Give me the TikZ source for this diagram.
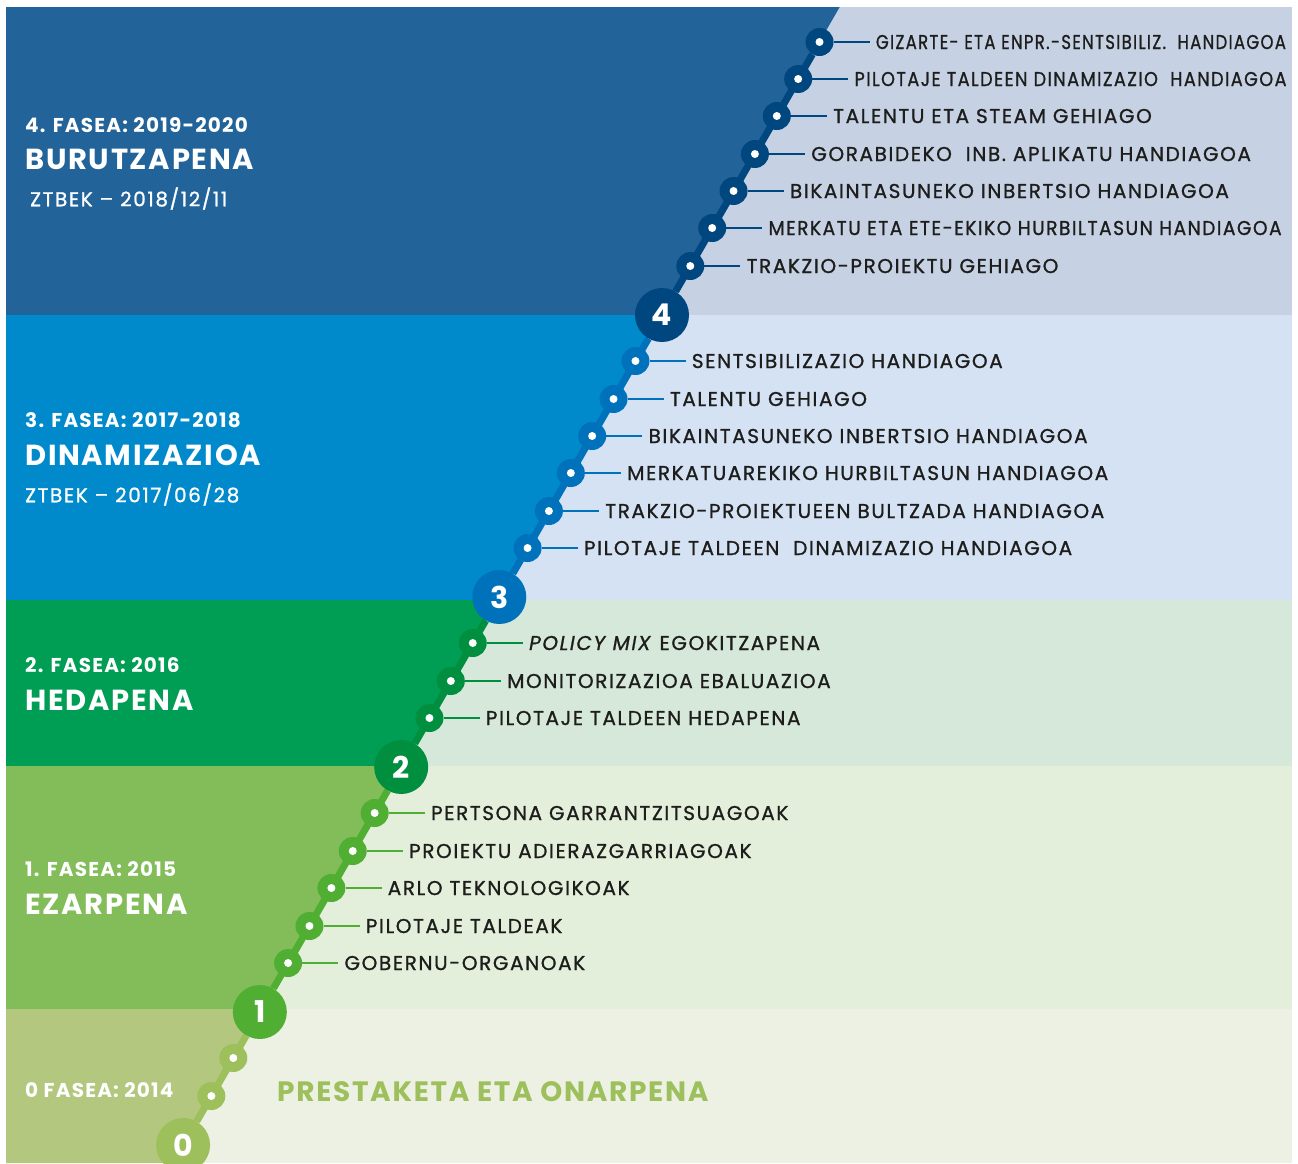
\documentclass[tikz,border=0pt]{standalone}
\usepackage{fontspec}
\setmainfont{Poppins}[LetterSpace=6]
\newfontfamily\lblfont{Poppins}[FakeBold=1.0, LetterSpace=8]
\usetikzlibrary{positioning, calc}
\definecolor{ink}{HTML}{1D1D1B}
\definecolor{leftfour}{HTML}{22639A}
\definecolor{rightfour}{HTML}{C6D1E4}
\definecolor{leftthree}{HTML}{0089CB}
\definecolor{rightthree}{HTML}{D4E2F4}
\definecolor{lefttwo}{HTML}{009D54}
\definecolor{righttwo}{HTML}{D6E8DA}
\definecolor{leftone}{HTML}{82BD5A}
\definecolor{rightone}{HTML}{E3EFDB}
\definecolor{leftzero}{HTML}{B3C87E}
\definecolor{rightzero}{HTML}{EDF1E3}
\definecolor{cfour}{HTML}{00467F}
\definecolor{cthree}{HTML}{0072BB}
\definecolor{ctwo}{HTML}{008F3F}
\definecolor{cone}{HTML}{50AE33}
\definecolor{czero}{HTML}{9DBF5C}
\newcommand{\squeeze}[2]{\resizebox{#1}{\height}{#2}}
\pgfdeclarelayer{bands}
\pgfdeclarelayer{links}
\pgfsetlayers{bands,links,main}

\begin{document}
\begin{tikzpicture}[
  x=1pt, y=-1pt,
  declare function={cx(\t)=662+0.577*(315-\t);},
  phase/.style={anchor=west, inner sep=0pt, text height=14.5pt, text depth=0pt,
                text=white, font=\fontsize{20}{20}\selectfont\bfseries},
  stage/.style={phase, text height=20.5pt, font=\fontsize{29}{29}\selectfont\bfseries},
  datum/.style={phase, font=\lblfont\fontsize{20}{20}\selectfont},
  milestone/.style={circle, minimum size=54pt, inner sep=0pt, text=white,
                    font=\fontsize{30}{30}\selectfont\bfseries},
  dot/.style={circle, minimum size=28pt, inner sep=0pt,
              path picture={\fill[white] (path picture bounding box.center) circle (4pt);}},
  lbl/.style={anchor=west, inner xsep=6pt, inner ysep=0pt, text height=14pt,
              text depth=0pt, text=ink, font=\lblfont\fontsize{20}{20}\selectfont},
  tick/.style={line width=2.5pt},
  chain/.style={line width=7pt}
]
  \useasboundingbox (0,0) rectangle (1298,1163);
  \clip (0,0) rectangle (1298,1163);

  % bands
  \begin{pgfonlayer}{bands}
  \fill[rightfour] (6,7) rectangle (1292,315);
  \fill[leftfour] (6,7) -- ({cx(7)},7) -- ({cx(315)},315) -- (6,315) -- cycle;
  \fill[rightthree] (6,315) rectangle (1292,600);
  \fill[leftthree] (6,315) -- ({cx(315)},315) -- ({cx(600)},600) -- (6,600) -- cycle;
  \fill[righttwo] (6,600) rectangle (1292,766);
  \fill[lefttwo] (6,600) -- ({cx(600)},600) -- ({cx(766)},766) -- (6,766) -- cycle;
  \fill[rightone] (6,766) rectangle (1292,1009);
  \fill[leftone] (6,766) -- ({cx(766)},766) -- ({cx(1009)},1009) -- (6,1009) -- cycle;
  \fill[rightzero] (6,1009) rectangle (1292,1163);
  \fill[leftzero] (6,1009) -- ({cx(1009)},1009) -- ({cx(1163)},1163) -- (6,1163) -- cycle;
  \end{pgfonlayer}

  % phase texts
  \node[phase] (f4) at (25,125) {4. FASEA: 2019-2020};
  \node[stage] (s4) at (25,159) {BURUTZAPENA};
  \node[datum] (z4) at (30,199) {ZTBEK \textendash\ 2018/12/11};
  \node[phase] (f3) at (25,420) {3. FASEA: 2017-2018};
  \node[stage] (s3) at (25,455) {DINAMIZAZIOA};
  \node[datum] (z3) at (25,495) {ZTBEK \textendash\ 2017/06/28};
  \node[phase] (f2) at (25,665) {2. FASEA: 2016};
  \node[stage] (s2) at (25,700) {HEDAPENA};
  \node[phase] (f1) at (25,869) {1. FASEA: 2015};
  \node[stage] (s1) at (25,904) {EZARPENA};
  \node[phase] (f0) at (25,1090) {0 FASEA: 2014};
  \node[stage, text=czero, font=\fontsize{28}{28}\selectfont\bfseries] (s0) at (277,1091)
    {PRESTAKETA ETA ONARPENA};

  % milestones
  \node[milestone, fill=czero] (m0) at ({cx(1145)},1145) {0};
  \node[milestone, fill=cone] (m1) at ({cx(1012)},1012) {1};
  \node[milestone, fill=ctwo] (m2) at ({cx(767)},767) {2};
  \node[milestone, fill=cthree] (m3) at ({cx(597)},597) {3};
  \node[milestone, fill=cfour] (m4) at ({cx(315)},315) {4};

  % steps, phase 0
  \node[dot, fill=czero] (i01) at ({cx(1096)},1096) {};
  \node[dot, fill=czero] (i02) at ({cx(1058)},1058) {};

  % steps, phase 1
  \node[dot, fill=cone] (i11) at ({cx(963)},963) {};
  \node[dot, fill=cone] (i12) at ({cx(926)},926) {};
  \node[dot, fill=cone] (i13) at ({cx(888)},888) {};
  \node[dot, fill=cone] (i14) at ({cx(851)},851) {};
  \node[dot, fill=cone] (i15) at ({cx(813)},813) {};
  \node[lbl, right=36pt of i11] (l11) {GOBERNU-ORGANOAK};
  \node[lbl, right=36pt of i12] (l12) {PILOTAJE TALDEAK};
  \node[lbl, right=36pt of i13] (l13) {ARLO TEKNOLOGIKOAK};
  \node[lbl, right=36pt of i14] (l14) {PROIEKTU ADIERAZGARRIAGOAK};
  \node[lbl, right=36pt of i15] (l15) {PERTSONA GARRANTZITSUAGOAK};

  % steps, phase 2
  \node[dot, fill=ctwo] (i21) at ({cx(718)},718) {};
  \node[dot, fill=ctwo] (i22) at ({cx(681)},681) {};
  \node[dot, fill=ctwo] (i23) at ({cx(643)},643) {};
  \node[lbl, right=36pt of i21] (l21) {PILOTAJE TALDEEN HEDAPENA};
  \node[lbl, right=36pt of i22] (l22) {MONITORIZAZIOA EBALUAZIOA};
  \node[lbl, right=36pt of i23] (l23) {\textit{POLICY MIX} EGOKITZAPENA};

  % steps, phase 3
  \node[dot, fill=cthree] (i31) at ({cx(548)},548) {};
  \node[dot, fill=cthree] (i32) at ({cx(511)},511) {};
  \node[dot, fill=cthree] (i33) at ({cx(473)},473) {};
  \node[dot, fill=cthree] (i34) at ({cx(436)},436) {};
  \node[dot, fill=cthree] (i35) at ({cx(399)},399) {};
  \node[dot, fill=cthree] (i36) at ({cx(361)},361) {};
  \node[lbl, right=36pt of i31] (l31) {PILOTAJE TALDEEN\ \ DINAMIZAZIO HANDIAGOA};
  \node[lbl, right=36pt of i32] (l32) {TRAKZIO-PROIEKTUEEN BULTZADA HANDIAGOA};
  \node[lbl, right=36pt of i33] (l33) {MERKATUAREKIKO HURBILTASUN HANDIAGOA};
  \node[lbl, right=36pt of i34] (l34) {BIKAINTASUNEKO INBERTSIO HANDIAGOA};
  \node[lbl, right=36pt of i35] (l35) {TALENTU GEHIAGO};
  \node[lbl, right=36pt of i36] (l36) {SENTSIBILIZAZIO HANDIAGOA};

  % steps, phase 4
  \node[dot, fill=cfour] (i41) at ({cx(266)},266) {};
  \node[dot, fill=cfour] (i42) at ({cx(228)},228) {};
  \node[dot, fill=cfour] (i43) at ({cx(191)},191) {};
  \node[dot, fill=cfour] (i44) at ({cx(154)},154) {};
  \node[dot, fill=cfour] (i45) at ({cx(116)},116) {};
  \node[dot, fill=cfour] (i46) at ({cx(79)},79) {};
  \node[dot, fill=cfour] (i47) at ({cx(42)},42) {};
  \node[lbl, right=36pt of i41] (l41) {TRAKZIO-PROIEKTU GEHIAGO};
  \node[lbl, right=36pt of i42] (l42) {\squeeze{513pt}{MERKATU ETA ETE-EKIKO HURBILTASUN HANDIAGOA}};
  \node[lbl, right=36pt of i43] (l43) {BIKAINTASUNEKO INBERTSIO HANDIAGOA};
  \node[lbl, right=36pt of i44] (l44) {GORABIDEKO\ \ INB. APLIKATU HANDIAGOA};
  \node[lbl, right=36pt of i45] (l45) {TALENTU ETA STEAM GEHIAGO};
  \node[lbl, right=36pt of i46] (l46) {\squeeze{432pt}{PILOTAJE TALDEEN DINAMIZAZIO\ \ HANDIAGOA}};
  \node[lbl, right=36pt of i47] (l47) {\squeeze{410pt}{GIZARTE- ETA ENPR.-SENTSIBILIZ.\ \ HANDIAGOA}};

  % chain and ticks
  \begin{pgfonlayer}{links}
  \draw[chain, czero] (m0) -- (m1);
  \draw[chain, cone] (m1) -- (m2);
  \draw[chain, ctwo] (m2) -- (m3);
  \draw[chain, cthree] (m3) -- (m4);
  \draw[chain, cfour] (m4) -- (i47);
  \draw[tick, cone] (i11) -- (l11);
  \draw[tick, cone] (i12) -- (l12);
  \draw[tick, cone] (i13) -- (l13);
  \draw[tick, cone] (i14) -- (l14);
  \draw[tick, cone] (i15) -- (l15);
  \draw[tick, ctwo] (i21) -- (l21);
  \draw[tick, ctwo] (i22) -- (l22);
  \draw[tick, ctwo] (i23) -- (l23);
  \draw[tick, cthree] (i31) -- (l31);
  \draw[tick, cthree] (i32) -- (l32);
  \draw[tick, cthree] (i33) -- (l33);
  \draw[tick, cthree] (i34) -- (l34);
  \draw[tick, cthree] (i35) -- (l35);
  \draw[tick, cthree] (i36) -- (l36);
  \draw[tick, cfour] (i41) -- (l41);
  \draw[tick, cfour] (i42) -- (l42);
  \draw[tick, cfour] (i43) -- (l43);
  \draw[tick, cfour] (i44) -- (l44);
  \draw[tick, cfour] (i45) -- (l45);
  \draw[tick, cfour] (i46) -- (l46);
  \draw[tick, cfour] (i47) -- (l47);
  \end{pgfonlayer}
\end{tikzpicture}
\end{document}
